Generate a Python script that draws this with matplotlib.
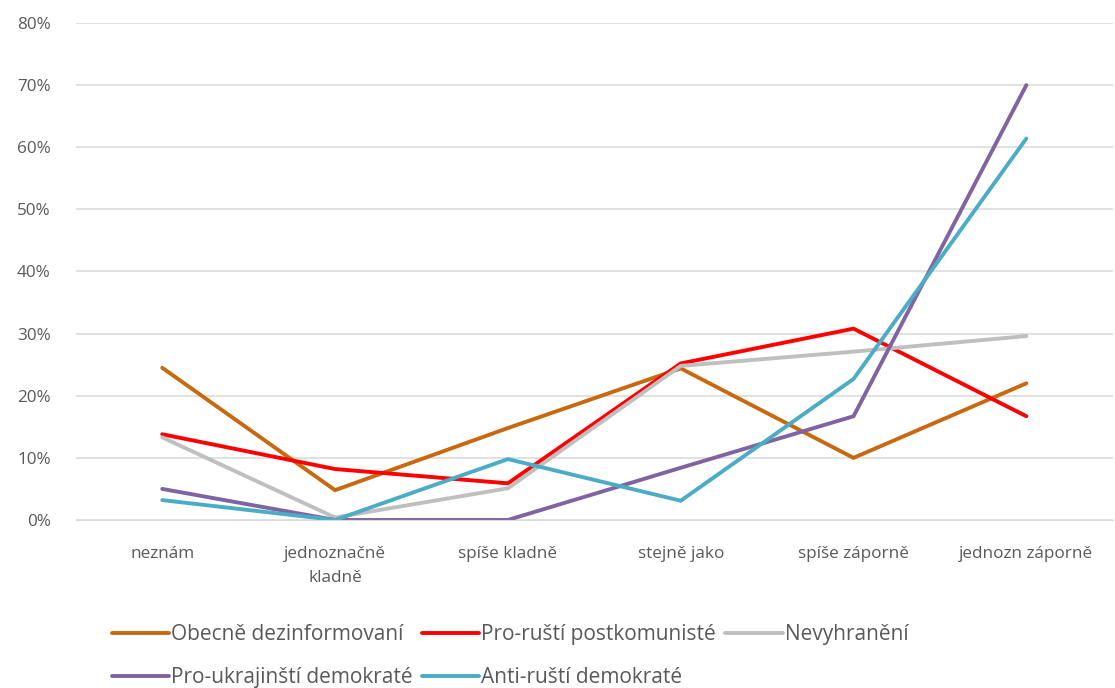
import matplotlib
matplotlib.use("Agg")
import matplotlib.pyplot as plt
from matplotlib.ticker import PercentFormatter

categories = ["neznám", "jednoznačně\nkladně", "spíše kladně", "stejně jako",
              "spíše záporně", "jednozn záporně"]
series_names = ["Obecně dezinformovaní", "Pro-ruští postkomunisté", "Nevyhranění",
                "Pro-ukrajinští demokraté", "Anti-ruští demokraté"]
obecne = [24.5, 4.8, 14.8, 24.4, 10.0, 22.0]
pro_rusti = [13.8, 8.2, 5.9, 25.2, 30.8, 16.7]
nevyhraneni = [13.3, 0.4, 5.1, 24.8, 27.1, 29.6]
pro_ukrajinsti = [5.0, 0.0, 0.0, 8.4, 16.7, 70.0]
anti_rusti = [3.2, 0.0, 9.8, 3.1, 22.7, 61.4]
colors = ["#C8690F", "#FF0000", "#BFBFBF", "#8064A2", "#4BACC6"]

plt.rcParams['font.family'] = ['Open Sans', 'DejaVu Sans']

fig = plt.figure(figsize=(11.15, 6.88), dpi=100)
ax = fig.add_axes([0.068, 0.2442, 0.93, 0.7224])

data = [obecne, pro_rusti, nevyhraneni, pro_ukrajinsti, anti_rusti]
x = list(range(len(categories)))
handles = []
for name, vals, c in zip(series_names, data, colors):
    h, = ax.plot(x, vals, color=c, lw=2.8, label=name, solid_joinstyle='miter',
                 solid_capstyle='round')
    handles.append(h)

ax.set_xlim(-0.5, len(categories) - 0.5)
ax.set_ylim(0, 80)
ax.set_yticks(range(0, 81, 10))
ax.yaxis.set_major_formatter(PercentFormatter(decimals=0))
ax.set_xticks(x)
ax.set_xticklabels(categories, linespacing=1.6)
ax.grid(axis='y', color='#D9D9D9', lw=1.1)
ax.set_axisbelow(True)
for s in ax.spines.values():
    s.set_visible(False)
ax.spines['bottom'].set_visible(True)
ax.spines['bottom'].set_color('#D9D9D9')
ax.tick_params(axis='both', length=0, colors='#595959', labelsize=12.3)
ax.tick_params(axis='y', pad=18)
ax.tick_params(axis='x', pad=19)

order = [0, 3, 1, 4, 2]
leg = fig.legend([handles[i] for i in order], [series_names[i] for i in order],
                 ncol=3, loc='upper left', bbox_to_anchor=(0.100, 0.093),
                 frameon=False, fontsize=15, handlelength=2.75, handletextpad=0.1,
                 columnspacing=0.45, labelspacing=1.05, labelcolor='#595959',
                 borderaxespad=0, borderpad=0)

fig.savefig("out.png", dpi=100)
